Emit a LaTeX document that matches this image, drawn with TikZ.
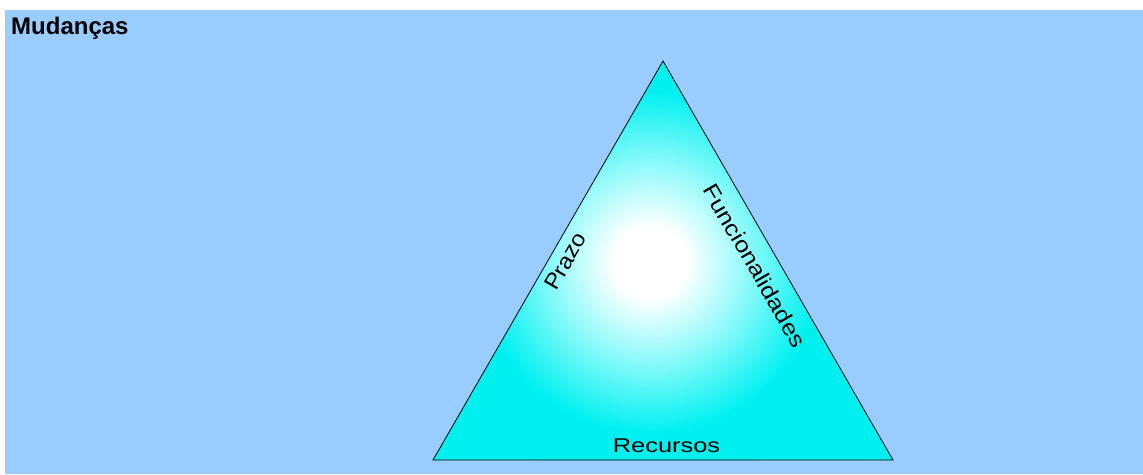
\documentclass[tikz,border=0pt]{standalone}
\usepackage{fontspec}
\setmainfont{Liberation Sans}
\definecolor{bgblue}{RGB}{153,204,255}
\definecolor{tricyan}{RGB}{0,240,240}
\definecolor{midcyan}{RGB}{140,250,250}
\pgfdeclareradialshading{triglow}{\pgfpoint{0bp}{0bp}}{%
  color(0bp)=(white); color(4bp)=(white); color(11bp)=(midcyan); color(19bp)=(tricyan); color(50bp)=(tricyan)}
\begin{document}
\begin{tikzpicture}[x=1pt,y=-1pt,
  lbl/.style={inner sep=0pt, font=\fontsize{22}{26}\selectfont, text=black},
  edge/.style={draw=black, line width=0.8pt, line join=miter}]
\useasboundingbox (0,0) rectangle (1143,474);
\fill[white] (0,0) rectangle (1143,474);
\fill[bgblue] (5,10) rectangle (1143,474);
\coordinate (A) at (663,61);
\coordinate (B) at (433,460);
\coordinate (C) at (893,460);
\begin{scope}
  \clip (A) -- (B) -- (C) -- cycle;
  \fill[tricyan] (A) -- (B) -- (C) -- cycle;
  \shade[shading=triglow] (650,262) circle (225);
\end{scope}
\draw[edge] (A) -- (B) -- (C) -- cycle;
\node[lbl, anchor=base west, font=\fontsize{24}{28}\selectfont\bfseries] (title) at (11,34) {Mudanças};
\node[lbl, rotate=60] (prazo) at (565.5,261) {\scalebox{1.09}[1]{Prazo}};
\node[lbl, rotate=-60] (func) at (755,265.5) {\scalebox{1.15}[1]{Funcionalidades}};
\node[lbl, anchor=base, font=\fontsize{20}{24}\selectfont] (rec) at (666.5,452) {\scalebox{1.27}[1]{Recursos}};
\end{tikzpicture}
\end{document}
